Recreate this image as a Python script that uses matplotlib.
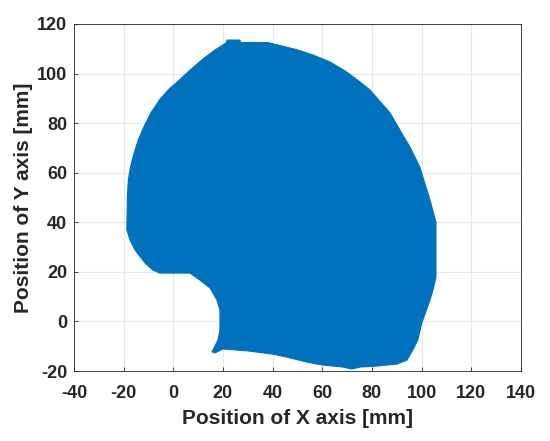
import matplotlib
matplotlib.use('Agg')
from matplotlib import pyplot as plt

plt.rcParams['font.family'] = ['Liberation Sans', 'DejaVu Sans']
plt.rcParams['font.weight'] = 'bold'
plt.rcParams['axes.unicode_minus'] = False

# outline of the reachable workspace (mm), clockwise from the top
edge_x = [21.5, 21.6, 26.8, 27.2, 38.1, 43.0, 49.8, 56.2, 63.1, 69.9, 75.2, 79.2,
          87.3, 91.3, 95.3, 99.3, 101.3, 103.4, 105.8, 105.8, 104.6, 103.4, 100.1,
          98.5, 96.5, 94.1, 90.1, 82.0, 75.2, 72.0, 68.3, 60.3, 53.8, 45.8, 40.1,
          30.1, 20.0, 16.8, 15.6, 18.0, 18.8, 18.8, 17.6, 14.8, 10.7, 6.7, -5.4,
          -8.2, -11.4, -15.4, -17.4, -18.7, -18.5, -18.1, -17.2, -15.8, -14.1, -11.8,
          -9.1, -5.4, -1.8, 2.7, 6.7, 12.0, 16.8]
edge_y = [112.5, 113.5, 113.5, 112.5, 112.5, 111.3, 109.6, 107.5, 104.7, 100.6, 96.6,
          93.4, 84.1, 77.2, 70.4, 62.3, 55.8, 49.0, 40.1, 17.9, 12.7, 8.6, -0.6,
          -7.5, -11.5, -15.6, -17.2, -18.0, -18.4, -19.2, -18.4, -17.6, -16.4, -14.4,
          -13.2, -11.9, -11.1, -12.7, -12.3, -7.5, -3.5, 4.6, 8.6, 13.5, 16.7, 19.5,
          19.5, 20.7, 23.6, 28.8, 32.8, 36.9, 50.3, 57.1, 62.4, 67.8, 73.2, 78.6,
          84.0, 89.6, 93.6, 97.6, 101.3, 105.9, 109.5]

xticks = list(range(-40, 141, 20))
yticks = list(range(-20, 121, 20))

fig = plt.figure(figsize=(5.5, 4.41), dpi=100)
ax = fig.add_axes([0.1345, 0.1587, 0.8125, 0.787])

ax.fill(edge_x, edge_y, color='#0072BD', lw=0.8, ec='#0072BD', zorder=3)

ax.set_xlim(-40, 140)
ax.set_ylim(-20, 120)
ax.set_xticks(xticks)
ax.set_yticks(yticks)
ax.grid(True, color='#e6e6e6', lw=0.8, zorder=0)
ax.set_axisbelow(True)
ax.tick_params(direction='in', length=3, width=0.6, colors='#262626',
               labelsize=13, top=False, right=False)
ax.tick_params(axis='x', pad=10)
ax.tick_params(axis='y', pad=5)
for lab in ax.get_xticklabels() + ax.get_yticklabels():
    lab.set_fontweight('bold')
for sp in ax.spines.values():
    sp.set_color('#262626')
    sp.set_linewidth(0.6)

ax.set_xlabel('Position of X axis [mm]', fontsize=15, fontweight='bold',
              color='#262626', labelpad=5)
ax.set_ylabel('Position of Y axis [mm]', fontsize=15, fontweight='bold',
              color='#262626', labelpad=3)

plt.savefig('out.png', dpi=100)
